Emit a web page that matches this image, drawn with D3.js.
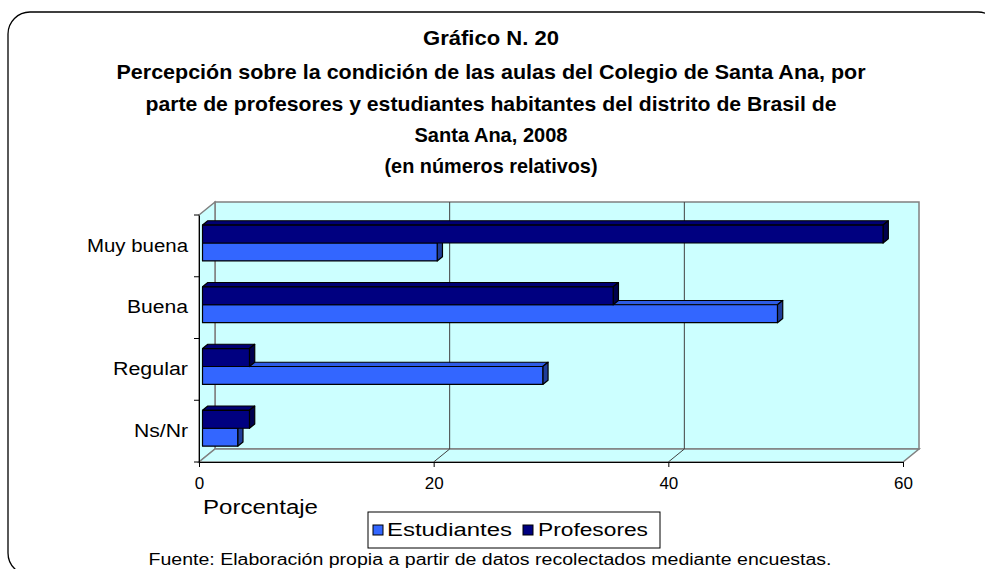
<!DOCTYPE html>
<html>
<head>
<meta charset="utf-8">
<script src="https://cdn.jsdelivr.net/npm/d3@7"></script>
<style>
  body { margin: 0; background: #fff; }
  svg { display: block; font-family: Arial, "Liberation Sans", sans-serif; }
</style>
</head>
<body>
<div id="chart"></div>
<script>
// data
const categories = ["Muy buena", "Buena", "Regular", "Ns/Nr"]
const series = ["Profesores", "Estudiantes"]
const estudiantes = [20, 49, 29, 3]
const profesores = [58, 35, 4, 4]
const xTicks = [0, 20, 40, 60]
const titleLines = [
    "Gráfico N. 20",
    "Percepción sobre la condición de las aulas del Colegio de Santa Ana, por",
    "parte de profesores y estudiantes habitantes del distrito de Brasil de",
    "Santa Ana, 2008",
    "(en números relativos)"
]
const xTitle = "Porcentaje"
const source = "Fuente: Elaboración propia a partir de datos recolectados mediante encuestas."

let width = 985, height = 569

let svg = d3.select("#chart").append("svg")
    .attr("width", width)
    .attr("height", height)

// outer rounded frame (cut by the picture on right and bottom)
svg.append("rect")
    .attr("x", 8).attr("y", 12)
    .attr("width", 992).attr("height", 563)
    .attr("rx", 22).attr("ry", 22)
    .attr("fill", "#fff")
    .attr("stroke", "#000")
    .attr("stroke-width", 1.3)

// title
let titleBase = [45, 79, 111, 142, 173]
let titleWidth = [136, 749, 691, 153, 213]
svg.append("g").selectAll("text")
    .data(titleLines)
    .join("text")
    .attr("x", 491)
    .attr("y", (d, i) => titleBase[i])
    .attr("text-anchor", "middle")
    .attr("font-size", 21)
    .attr("font-weight", "bold")
    .attr("textLength", (d, i) => titleWidth[i])
    .attr("lengthAdjust", "spacingAndGlyphs")
    .text(d => d)

// plot area, oblique 3d
let front = {left: 199, right: 903, top: 215, bottom: 462}
let depth = {dx: 16, dy: -13}

let x = d3.scaleLinear().domain([0, 60]).range([front.left, front.right])
let y = d3.scaleBand().domain(categories).range([front.top, front.bottom])
let sub = d3.scaleBand().domain(series).range([0, y.bandwidth()]).paddingOuter(0.72)

let wallFill = "#CCFFFF", wallStroke = "#808080"
let walls = svg.append("g")

// back wall
walls.append("rect")
    .attr("x", front.left + depth.dx)
    .attr("y", front.top + depth.dy)
    .attr("width", front.right - front.left)
    .attr("height", front.bottom - front.top)
    .attr("fill", wallFill)
    .attr("stroke", wallStroke)
    .attr("stroke-width", 1.5)

// left wall
walls.append("polygon")
    .attr("points", [
        [front.left, front.top],
        [front.left + depth.dx, front.top + depth.dy],
        [front.left + depth.dx, front.bottom + depth.dy],
        [front.left, front.bottom]
    ].join(" "))
    .attr("fill", wallFill)
    .attr("stroke", wallStroke)
    .attr("stroke-width", 1.5)

// floor
walls.append("polygon")
    .attr("points", [
        [front.left, front.bottom],
        [front.right, front.bottom],
        [front.right + depth.dx, front.bottom + depth.dy],
        [front.left + depth.dx, front.bottom + depth.dy]
    ].join(" "))
    .attr("fill", wallFill)
    .attr("stroke", wallStroke)
    .attr("stroke-width", 1.5)

// gridlines on back wall and floor
let grid = svg.append("g")
grid.selectAll("line.back")
    .data(xTicks.filter(d => d > 0 && d < 60))
    .join("line")
    .attr("class", "back")
    .attr("x1", d => x(d) + depth.dx).attr("x2", d => x(d) + depth.dx)
    .attr("y1", front.top + depth.dy).attr("y2", front.bottom + depth.dy)
    .attr("stroke", "#404040")
grid.selectAll("line.floor")
    .data(xTicks.filter(d => d > 0 && d < 60))
    .join("line")
    .attr("class", "floor")
    .attr("x1", d => x(d)).attr("y1", front.bottom)
    .attr("x2", d => x(d) + depth.dx).attr("y2", front.bottom + depth.dy)
    .attr("stroke", "#404040")

// bars
let colors = {
    Estudiantes: {front: "#3366FF", top: "#2E5CE6", side: "#1F3D99"},
    Profesores: {front: "#000080", top: "#000073", side: "#00004D"}
}
let z1 = 0.22, z2 = 0.55   // bar depth inside the plot

let rows = []
categories.forEach((c, i) => {
    // draw students first, teachers overlap them
    rows.push({cat: c, key: "Estudiantes", value: estudiantes[i]})
    rows.push({cat: c, key: "Profesores", value: profesores[i]})
})

let bars = svg.append("g")
rows.forEach(d => {
    let c = colors[d.key]
    let x0 = x(0) + depth.dx * z1
    let x1 = x(d.value) + depth.dx * z1
    let y0 = y(d.cat) + sub(d.key) + depth.dy * z1
    let h = sub.bandwidth()
    let ox = depth.dx * (z2 - z1), oy = depth.dy * (z2 - z1)
    let g = bars.append("g")
        .attr("stroke", "#000")
        .attr("stroke-width", 1.2)
        .attr("stroke-linejoin", "round")
    g.append("polygon")
        .attr("points", [[x0, y0], [x0 + ox, y0 + oy], [x1 + ox, y0 + oy], [x1, y0]].join(" "))
        .attr("fill", c.top)
    g.append("polygon")
        .attr("points", [[x1, y0], [x1 + ox, y0 + oy], [x1 + ox, y0 + oy + h], [x1, y0 + h]].join(" "))
        .attr("fill", c.side)
    g.append("rect")
        .attr("x", x0).attr("y", y0)
        .attr("width", x1 - x0).attr("height", h)
        .attr("fill", c.front)
})

// axes
let xAxis = svg.append("g")
    .attr("transform", "translate(0," + front.bottom + ")")
    .call(d3.axisBottom(x).tickValues(xTicks).tickSize(5).tickSizeOuter(0).tickPadding(10))
xAxis.select(".domain").attr("stroke", "#000")
xAxis.selectAll("text")
    .attr("font-size", 17)
    .attr("font-family", "Arial, 'Liberation Sans', sans-serif")
    .attr("fill", "#000")

let yAxis = svg.append("g")
    .attr("transform", "translate(" + front.left + ",0)")
    .call(d3.axisLeft(y).tickSize(0).tickPadding(11))
yAxis.select(".domain").attr("stroke", "#000")
let catWidth = {"Muy buena": 101, "Buena": 61, "Regular": 75, "Ns/Nr": 54}
yAxis.selectAll("text")
    .attr("font-size", 18)
    .attr("font-family", "Arial, 'Liberation Sans', sans-serif")
    .attr("fill", "#000")
    .attr("textLength", d => catWidth[d])
    .attr("lengthAdjust", "spacingAndGlyphs")

// category ticks sit on the band edges
yAxis.selectAll("line.edge")
    .data(categories.map(c => y(c)).concat([front.bottom]))
    .join("line")
    .attr("class", "edge")
    .attr("x1", -5).attr("x2", 0)
    .attr("y1", d => d).attr("y2", d => d)
    .attr("stroke", "#000")

// axis title
svg.append("text")
    .attr("x", 203).attr("y", 514)
    .attr("font-size", 20)
    .attr("textLength", 115)
    .attr("lengthAdjust", "spacingAndGlyphs")
    .text(xTitle)

// legend
let legend = svg.append("g")
legend.append("rect")
    .attr("x", 368).attr("y", 512)
    .attr("width", 292).attr("height", 36)
    .attr("fill", "#fff")
    .attr("stroke", "#000")
    .attr("stroke-width", 1)
let legendItems = [
    {key: "Estudiantes", sx: 373, tx: 387, w: 125},
    {key: "Profesores", sx: 523, tx: 538, w: 110}
]
legendItems.forEach(d => {
    legend.append("rect")
        .attr("x", d.sx).attr("y", 525)
        .attr("width", 10).attr("height", 10)
        .attr("fill", colors[d.key].front)
        .attr("stroke", "#000")
    legend.append("text")
        .attr("x", d.tx).attr("y", 536)
        .attr("font-size", 18)
        .attr("textLength", d.w)
        .attr("lengthAdjust", "spacingAndGlyphs")
        .text(d.key)
})

// source note
svg.append("text")
    .attr("x", 490).attr("y", 565)
    .attr("text-anchor", "middle")
    .attr("font-size", 16)
    .attr("textLength", 683)
    .attr("lengthAdjust", "spacingAndGlyphs")
    .text(source)
</script>
</body>
</html>
